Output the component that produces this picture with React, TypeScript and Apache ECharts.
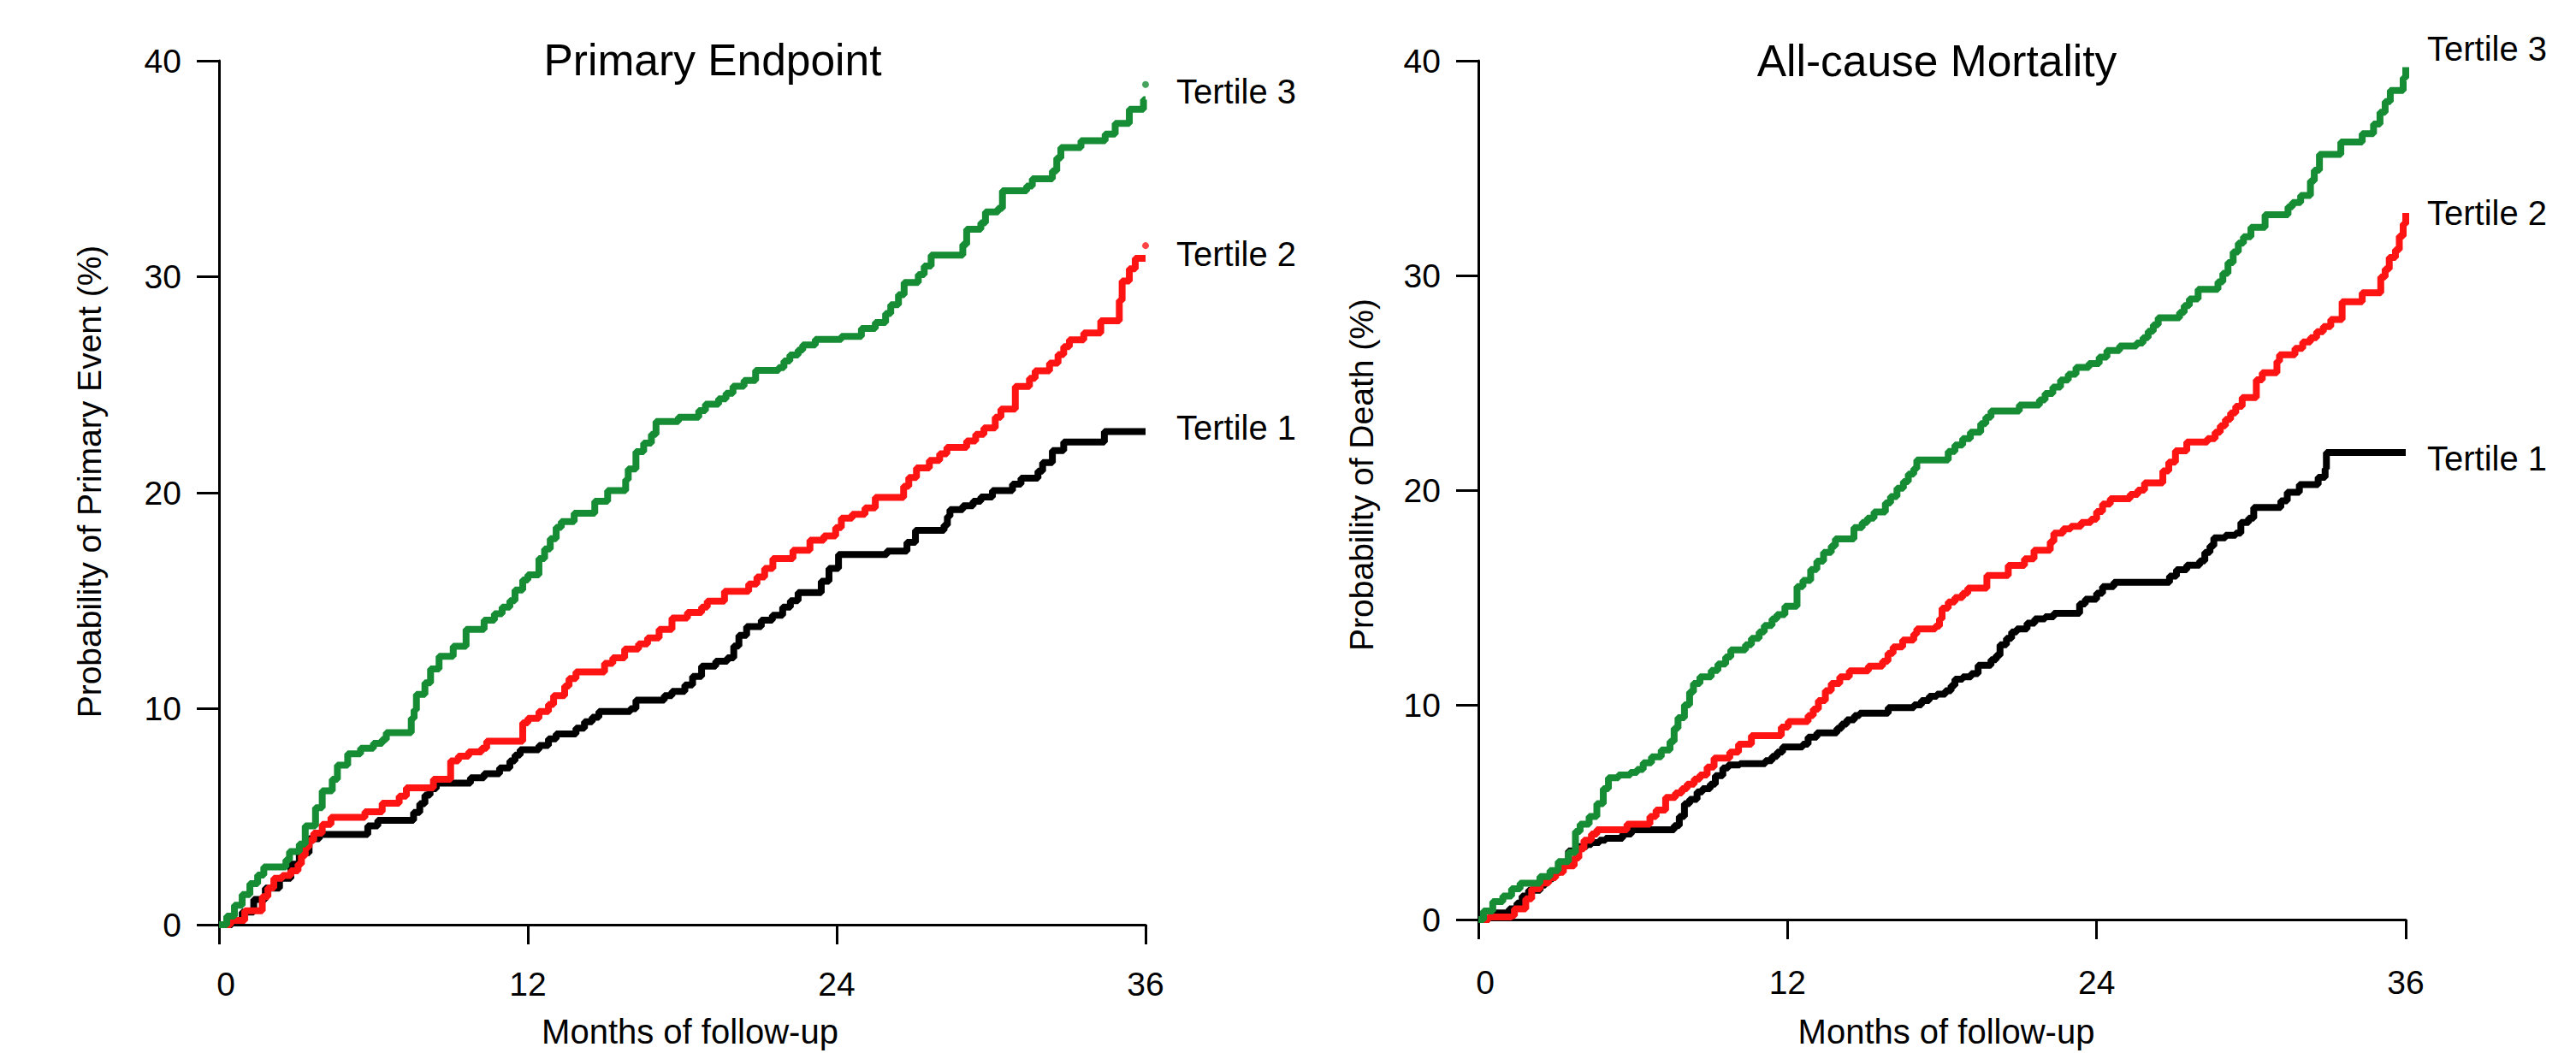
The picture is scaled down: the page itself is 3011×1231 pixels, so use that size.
import React, { useEffect, useRef } from "react";
import * as echarts from "echarts";

// ---------- data (months, cumulative probability %) ----------
const monthTicks = [0, 12, 24, 36];
const probTicks = [0, 10, 20, 30, 40];
const seriesNames = ["Tertile 1", "Tertile 2", "Tertile 3"];
const panelTitles = ["Primary Endpoint", "All-cause Mortality"];
const yAxisNames = ["Probability of Primary Event (%)", "Probability of Death (%)"];
const xAxisName = "Months of follow-up";

const primaryT1: number[][] = [
  [0, 0], [0.5, 0.2], [0.9, 0.58], [1.35, 1.17], [1.8, 1.69], [2.35, 2.15], [2.79, 2.8], [3.12, 3.33],
  [3.5, 3.98], [3.9, 4.18], [5.78, 4.57], [6.17, 4.83], [7.56, 5.2], [7.8, 5.6], [8.0, 6.0], [8.2, 6.3],
  [8.44, 6.55], [9.77, 6.8], [10.3, 6.99], [10.9, 7.26], [11.3, 7.58], [11.5, 7.85], [11.7, 8.1],
  [12.43, 8.3], [12.8, 8.6], [13.1, 8.83], [13.87, 9.1], [14.2, 9.4], [14.5, 9.6], [14.76, 9.87],
  [15.98, 10.0], [16.2, 10.4], [17.3, 10.6], [17.6, 10.8], [18.1, 11.1], [18.4, 11.5], [18.75, 11.97],
  [19.3, 12.2], [19.75, 12.36], [20.0, 12.9], [20.2, 13.4], [20.5, 13.8], [21.07, 14.1], [21.5, 14.33],
  [21.9, 14.7], [22.2, 15.0], [22.5, 15.38], [23.4, 15.9], [23.7, 16.5], [24.07, 17.14], [25.95, 17.3],
  [26.73, 17.7], [27.06, 18.26], [28.17, 18.5], [28.3, 18.9], [28.4, 19.22], [28.9, 19.4], [29.3, 19.6],
  [29.6, 19.8], [30.05, 20.1], [30.83, 20.4], [31.16, 20.67], [31.82, 21.0], [32.0, 21.4], [32.38, 21.95],
  [32.82, 22.35], [34.4, 22.83], [36, 22.83],
];
const primaryT2: number[][] = [
  [0, 0], [0.45, 0.2], [1.0, 0.64], [1.68, 1.3], [1.9, 1.7], [2.13, 2.15], [2.46, 2.28], [2.79, 2.5],
  [3.07, 2.8], [3.2, 3.2], [3.35, 3.59], [3.5, 3.9], [3.68, 4.24], [4.01, 4.64], [4.35, 4.97], [5.67, 5.23],
  [6.34, 5.62], [7.0, 5.95], [7.28, 6.34], [8.33, 6.73], [9.0, 7.58], [9.3, 7.8], [9.7, 8.0], [10.2, 8.17],
  [10.4, 8.5], [11.8, 9.35], [12.0, 9.55], [12.43, 9.87], [12.8, 10.2], [13.0, 10.6], [13.43, 11.05],
  [13.6, 11.4], [13.87, 11.7], [14.98, 12.1], [15.3, 12.36], [15.76, 12.76], [16.3, 13.0], [16.65, 13.28],
  [17.1, 13.67], [17.6, 14.2], [18.2, 14.46], [18.75, 14.7], [18.97, 14.98], [19.64, 15.44], [20.58, 15.77],
  [20.9, 16.1], [21.2, 16.5], [21.52, 16.95], [22.3, 17.34], [22.96, 17.8], [23.5, 18.0], [23.96, 18.39],
  [24.18, 18.82], [24.6, 19.0], [25.1, 19.3], [25.5, 19.78], [26.6, 20.3], [26.8, 20.7], [27.1, 21.15],
  [27.6, 21.5], [28.0, 21.8], [28.28, 22.1], [29.05, 22.4], [29.4, 22.7], [29.72, 23.0], [30.16, 23.5],
  [30.38, 23.87], [30.94, 24.92], [31.49, 25.3], [31.71, 25.64], [32.27, 26.0], [32.6, 26.4], [32.82, 26.76],
  [33.04, 27.08], [33.6, 27.4], [34.26, 27.96], [34.98, 28.9], [35.09, 29.8], [35.37, 30.37], [35.6, 30.85],
  [36, 30.85],
];
const primaryT3: number[][] = [
  [0, 0], [0.3, 0.4], [0.6, 0.9], [0.9, 1.4], [1.2, 1.9], [1.5, 2.3], [1.74, 2.67], [2.6, 3.0], [2.74, 3.39],
  [3.12, 3.73], [3.35, 4.57], [3.75, 5.42], [4.01, 6.2], [4.4, 6.73], [4.6, 7.39], [5.0, 7.91], [5.5, 8.17],
  [6.0, 8.4], [6.34, 8.57], [6.5, 8.89], [7.47, 9.55], [7.58, 9.94], [7.67, 10.66], [8.0, 11.2], [8.22, 11.84],
  [8.55, 12.43], [9.1, 12.89], [9.6, 13.67], [10.3, 14.1], [10.7, 14.4], [11.0, 14.7], [11.3, 15.0],
  [11.5, 15.5], [11.8, 15.96], [12.0, 16.2], [12.43, 16.95], [12.65, 17.4], [12.87, 17.87], [13.1, 18.4],
  [13.3, 18.66], [13.8, 19.05], [14.6, 19.6], [15.1, 20.1], [15.8, 20.6], [15.9, 21.1], [16.2, 21.9],
  [16.5, 22.3], [16.8, 22.7], [16.98, 23.3], [17.85, 23.5], [18.64, 23.8], [18.9, 24.1], [19.41, 24.35],
  [19.7, 24.6], [19.97, 24.93], [20.4, 25.2], [20.85, 25.66], [21.74, 25.79], [21.95, 26.1], [22.18, 26.38],
  [22.5, 26.6], [22.68, 26.84], [23.17, 27.1], [24.18, 27.24], [24.96, 27.6], [25.5, 27.88], [25.9, 28.3],
  [26.1, 28.7], [26.4, 29.17], [26.62, 29.73], [27.17, 30.1], [27.4, 30.5], [27.67, 31.0], [28.9, 31.5],
  [29.05, 32.2], [29.6, 32.5], [29.78, 33.0], [30.27, 33.17], [30.44, 33.98], [31.38, 34.2], [31.6, 34.53],
  [32.38, 34.9], [32.55, 35.5], [32.71, 35.98], [33.49, 36.3], [34.43, 36.6], [34.82, 37.1], [35.37, 37.75],
  [35.92, 38.2], [36, 38.2],
];
const primaryEndDots: number[][][] = [[], [[36, 31.44]], [[36, 38.9]]];

const mortalityT1: number[][] = [
  [0, 0], [0.4, 0.1], [0.62, 0.31], [1.2, 0.5], [1.5, 0.77], [1.7, 1.1], [1.95, 1.36], [2.4, 1.6], [2.6, 1.9],
  [2.9, 2.2], [3.17, 2.61], [3.5, 3.2], [3.9, 3.4], [4.2, 3.5], [4.39, 3.59], [4.7, 3.7], [4.94, 3.78],
  [5.6, 3.98], [5.94, 4.18], [7.6, 4.37], [7.8, 4.8], [8.0, 5.4], [8.2, 5.6], [8.49, 5.95], [8.7, 6.1],
  [9.0, 6.3], [9.2, 6.7], [9.49, 7.06], [9.7, 7.2], [10.15, 7.26], [11.14, 7.4], [11.4, 7.6], [11.6, 7.8],
  [11.81, 8.04], [12.59, 8.17], [12.8, 8.5], [13.14, 8.7], [13.92, 8.9], [14.1, 9.1], [14.3, 9.3], [14.6, 9.5],
  [14.8, 9.61], [15.91, 9.87], [16.91, 10.0], [17.2, 10.2], [17.5, 10.4], [17.8, 10.5], [18.13, 10.66],
  [18.35, 10.9], [18.5, 11.2], [18.8, 11.3], [19.13, 11.45], [19.4, 11.84], [19.9, 12.1], [20.1, 12.3],
  [20.25, 12.8], [20.5, 13.1], [20.7, 13.4], [20.9, 13.54], [21.3, 13.8], [21.6, 14.0], [22.0, 14.1],
  [22.34, 14.26], [23.34, 14.7], [23.56, 14.92], [24.0, 15.2], [24.23, 15.51], [24.67, 15.71], [26.83, 16.0],
  [27.1, 16.29], [27.5, 16.5], [28.0, 16.7], [28.2, 17.1], [28.4, 17.4], [28.55, 17.78], [29.0, 17.9],
  [29.4, 18.0], [29.6, 18.5], [29.9, 18.7], [30.1, 19.19], [31.15, 19.5], [31.4, 19.9], [31.87, 20.26],
  [32.6, 20.6], [32.87, 21.0], [32.92, 21.75], [36, 21.75],
];
const mortalityT2: number[][] = [
  [0, 0], [0.4, 0.12], [1.29, 0.18], [1.4, 0.5], [1.84, 0.97], [2.07, 1.43], [2.4, 1.7], [2.73, 1.95],
  [3.0, 2.2], [3.3, 2.5], [3.72, 2.87], [3.9, 3.3], [4.1, 3.7], [4.39, 3.98], [4.6, 4.18], [5.77, 4.44],
  [6.66, 4.8], [6.9, 5.1], [7.27, 5.69], [7.65, 5.9], [7.9, 6.1], [8.1, 6.3], [8.38, 6.54], [8.6, 6.73],
  [8.88, 7.1], [9.15, 7.52], [9.76, 7.8], [10.1, 8.17], [10.6, 8.57], [11.76, 8.96], [12.03, 9.22],
  [12.8, 9.5], [13.0, 9.8], [13.2, 10.2], [13.47, 10.66], [13.7, 11.0], [14.03, 11.3], [14.4, 11.58],
  [15.14, 11.8], [15.69, 12.03], [15.9, 12.4], [16.1, 12.7], [16.47, 13.02], [16.9, 13.3], [17.02, 13.54],
  [17.74, 13.67], [17.9, 14.0], [18.0, 14.5], [18.24, 14.79], [18.5, 15.0], [18.8, 15.2], [19.0, 15.44],
  [19.74, 16.03], [20.57, 16.49], [21.2, 16.8], [21.57, 17.2], [22.2, 17.6], [22.34, 18.0], [22.7, 18.2],
  [23.0, 18.32], [23.4, 18.5], [23.78, 18.65], [24.0, 19.0], [24.23, 19.35], [24.53, 19.6], [25.3, 19.8],
  [25.6, 20.0], [25.86, 20.34], [26.57, 20.9], [26.8, 21.3], [27.06, 21.83], [27.5, 22.24], [28.3, 22.4],
  [28.6, 22.7], [28.8, 23.0], [29.0, 23.3], [29.2, 23.6], [29.4, 23.9], [29.65, 24.31], [30.2, 25.14],
  [30.43, 25.47], [31.0, 26.0], [31.1, 26.3], [31.7, 26.6], [32.0, 26.9], [32.3, 27.1], [32.54, 27.38],
  [32.8, 27.62], [33.09, 27.95], [33.53, 28.77], [34.31, 29.19], [35.03, 29.93], [35.2, 30.3], [35.36, 30.84],
  [35.6, 31.2], [35.75, 31.83], [35.9, 32.4], [36, 32.91],
];
const mortalityT3: number[][] = [
  [0, 0], [0.2, 0.4], [0.56, 0.84], [0.95, 1.1], [1.29, 1.43], [1.62, 1.69], [2.39, 2.0], [2.78, 2.28],
  [3.1, 2.7], [3.5, 3.13], [3.77, 4.1], [3.95, 4.44], [4.3, 4.8], [4.6, 5.4], [4.85, 6.1], [5.05, 6.6],
  [5.44, 6.73], [5.9, 6.85], [6.16, 6.99], [6.4, 7.3], [6.72, 7.58], [7.1, 7.9], [7.44, 8.3], [7.6, 8.9],
  [7.75, 9.4], [8.0, 10.0], [8.2, 10.6], [8.35, 11.0], [8.6, 11.3], [9.04, 11.6], [9.3, 11.9], [9.6, 12.23],
  [9.8, 12.56], [10.37, 12.8], [10.6, 13.1], [10.9, 13.4], [11.1, 13.7], [11.4, 14.0], [11.59, 14.2],
  [11.9, 14.59], [12.37, 15.51], [12.6, 15.8], [12.9, 16.3], [13.14, 16.69], [13.4, 17.1], [13.7, 17.4],
  [13.86, 17.73], [14.58, 18.26], [14.9, 18.5], [15.1, 18.7], [15.36, 18.98], [15.8, 19.4], [16.0, 19.7],
  [16.25, 20.09], [16.5, 20.4], [16.69, 20.75], [16.9, 21.0], [17.02, 21.4], [18.24, 21.8], [18.5, 22.1],
  [18.8, 22.4], [19.1, 22.7], [19.5, 23.1], [19.7, 23.4], [19.9, 23.69], [21.0, 23.96], [21.78, 24.2],
  [22.0, 24.5], [22.3, 24.8], [22.6, 25.13], [22.9, 25.4], [23.2, 25.72], [23.7, 25.9], [24.1, 26.2],
  [24.4, 26.5], [24.89, 26.71], [25.55, 26.85], [25.8, 27.1], [26.0, 27.4], [26.2, 27.7], [26.39, 28.03],
  [27.22, 28.28], [27.4, 28.6], [27.6, 28.9], [27.94, 29.35], [28.71, 29.7], [28.9, 30.1], [29.1, 30.6],
  [29.3, 31.1], [29.5, 31.5], [29.7, 31.8], [29.99, 32.24], [30.54, 32.83], [31.43, 33.2], [31.6, 33.4],
  [31.92, 33.73], [32.3, 34.4], [32.45, 34.9], [32.65, 35.64], [33.48, 36.22], [34.31, 36.6], [34.75, 37.05],
  [35.0, 37.6], [35.2, 38.1], [35.4, 38.62], [35.9, 39.2], [36, 39.7],
];

const seriesColors = ["#000000", "#FF1414", "#168C34"];
const FONT = '"Liberation Sans", Arial, Helvetica, sans-serif';

export default function App() {
  const ref = useRef<HTMLDivElement>(null);

  useEffect(() => {
    if (!ref.current) return;
    const chart = echarts.init(ref.current, undefined, { renderer: "svg" });

    const panels = [
      { data: [primaryT1, primaryT2, primaryT3], dots: primaryEndDots },
      { data: [mortalityT1, mortalityT2, mortalityT3], dots: [[], [], []] as number[][][] },
    ];

    const xAxes = [0, 1].map((g) => ({
      gridIndex: g,
      type: "value",
      min: monthTicks[0],
      max: monthTicks[monthTicks.length - 1],
      interval: monthTicks[1] - monthTicks[0],
      offset: 12,
      axisLine: { show: true, lineStyle: { color: "#000", width: 3 } },
      axisTick: { show: true, length: 23, lineStyle: { color: "#000", width: 3 } },
      axisLabel: {
        fontSize: 39,
        color: "#000",
        margin: g === 0 ? 38 : 42,
        fontFamily: FONT,
        formatter: (v: number) => (v === 0 ? "{z|0}" : String(v)),
        rich: { z: { fontSize: 39, color: "#000", fontFamily: FONT, padding: [0, 0, 0, 16] } },
      },
      splitLine: { show: false },
      name: xAxisName,
      nameLocation: "middle",
      nameGap: g === 0 ? 93 : 99,
      nameTextStyle: {
        fontSize: 40,
        color: "#000",
        fontFamily: FONT,
        padding: g === 0 ? [0, 0, 0, 18] : [0, 0, 0, 10],
      },
    }));

    const yAxes = [0, 1].map((g) => ({
      gridIndex: g,
      type: "value",
      min: probTicks[0],
      max: probTicks[probTicks.length - 1],
      interval: probTicks[1] - probTicks[0],
      axisLine: { show: true, lineStyle: { color: "#000", width: 3 } },
      axisTick: { show: true, length: 26, lineStyle: { color: "#000", width: 3 } },
      axisLabel: { fontSize: 39, color: "#000", margin: 44, fontFamily: FONT },
      splitLine: { show: false },
      name: yAxisNames[g],
      nameLocation: "middle",
      nameRotate: 90,
      nameGap: g === 0 ? 132 : 117,
      nameTextStyle: {
        fontSize: 39,
        color: "#000",
        fontFamily: FONT,
        padding: g === 0 ? [0, 0, 0, 26] : [0, 0, 0, 36],
      },
    }));

    const series: any[] = [];
    panels.forEach((p, g) => {
      p.data.forEach((d, i) => {
        series.push({
          type: "line",
          name: seriesNames[i],
          xAxisIndex: g,
          yAxisIndex: g,
          step: "end",
          showSymbol: false,
          symbol: "none",
          data: d,
          lineStyle: { color: seriesColors[i], width: 8 },
          itemStyle: { color: seriesColors[i] },
          z: 2 + i,
        });
        if (p.dots[i].length) {
          series.push({
            type: "scatter",
            name: seriesNames[i] + " end",
            xAxisIndex: g,
            yAxisIndex: g,
            data: p.dots[i],
            symbolSize: 8,
            itemStyle: { color: seriesColors[i] },
            z: 2 + i,
          });
        }
      });
    });

    const text = (t: string, x: number, y: number, size: number, align: string) => ({
      type: "text",
      x,
      y,
      silent: true,
      style: {
        text: t,
        fill: "#000",
        font: `${size}px ${FONT}`,
        textAlign: align,
        textVerticalAlign: "middle",
        align,
        verticalAlign: "middle",
      },
    });

    const graphic = [
      text(panelTitles[0], 833, 70, 51.5, "center"),
      text(panelTitles[1], 2264, 71, 51.5, "center"),
      text(seriesNames[2], 1375, 107, 40, "left"),
      text(seriesNames[1], 1375, 297, 40, "left"),
      text(seriesNames[0], 1375, 500, 40, "left"),
      text(seriesNames[2], 2837, 57, 40, "left"),
      text(seriesNames[1], 2837, 249, 40, "left"),
      text(seriesNames[0], 2837, 536, 40, "left"),
    ];

    chart.setOption({
      animation: false,
      backgroundColor: "#ffffff",
      grid: [
        { left: 256, top: 71, width: 1083, height: 1017, containLabel: false },
        { left: 1728, top: 71, width: 1084, height: 1017, containLabel: false },
      ],
      xAxis: xAxes,
      yAxis: yAxes,
      series,
      graphic,
    });

    return () => chart.dispose();
  }, []);

  return (
    <div
      ref={ref}
      style={{ position: "fixed", left: 0, top: 0, width: "3011px", height: "1231px", background: "#fff" }}
    />
  );
}
